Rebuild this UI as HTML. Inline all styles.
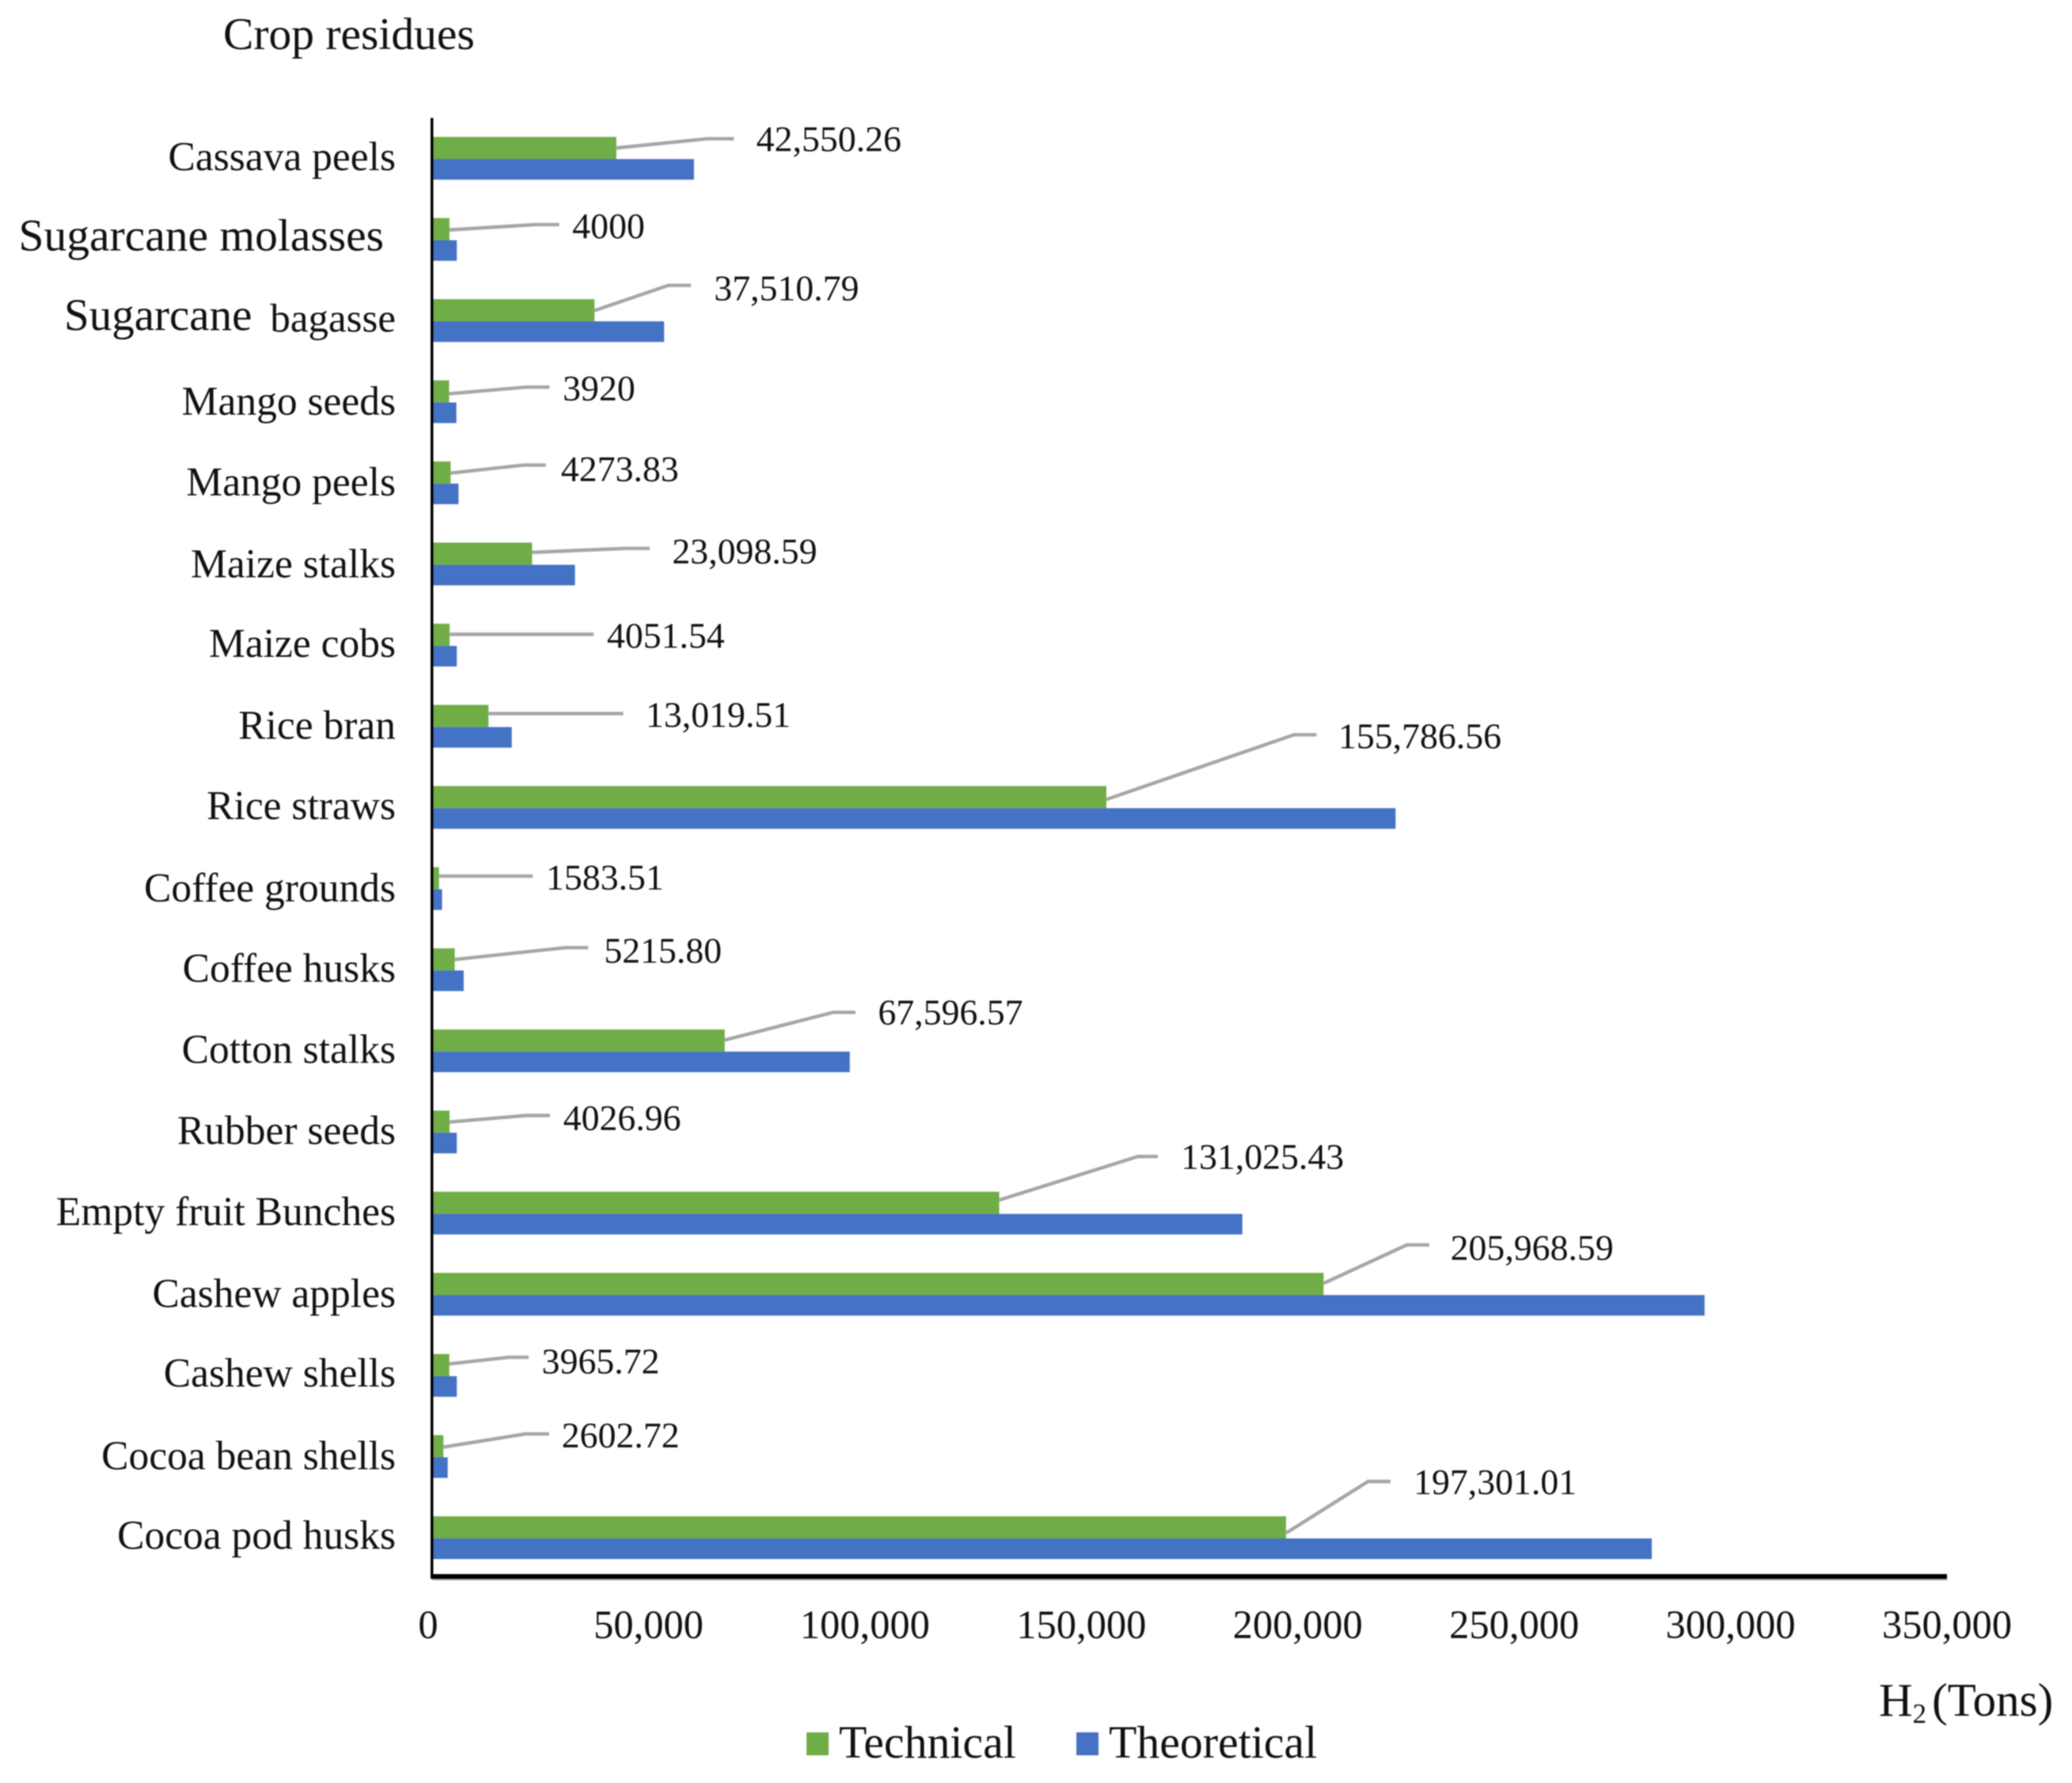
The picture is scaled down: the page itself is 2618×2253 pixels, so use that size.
<!DOCTYPE html>
<html lang="en">
<head>
<meta charset="utf-8">
<title>Crop residues – H2 (Tons)</title>
<style>
  html, body { margin: 0; padding: 0; background: #fff; }
  body { width: 2618px; height: 2253px; overflow: hidden; }
  svg { display: block; filter: blur(0.7px); }
  text { font-family: "Liberation Serif", "Times New Roman", serif; fill: #111; }
</style>
</head>
<body>
<svg id="chart" xmlns="http://www.w3.org/2000/svg" width="2618" height="2253" viewBox="0 0 2618 2253">
  <rect x="0" y="0" width="2618" height="2253" fill="#ffffff"/>
  <text x="282" y="62" font-size="57.5">Crop residues</text>
  <g id="bars"></g>
  <g id="leaders"></g>
  <g id="callouts"></g>
  <g id="categoryLabels"></g>
  <g id="tickLabels"></g>
  <rect x="544" y="149" width="3.5" height="1846" fill="#000"/>
  <rect x="545" y="1989" width="1915" height="6" fill="#000"/>
  <rect x="546" y="1995" width="1914" height="2" fill="#aaaaaa"/>
  <text x="2374" y="2168" font-size="59">H<tspan font-size="35" dy="9">2</tspan><tspan dy="-9" dx="7">(Tons)</tspan></text>
  <g>
    <rect x="1019" y="2189" width="28" height="29" fill="#70AD47"/>
    <text x="1060" y="2221" font-size="57.8">Technical</text>
    <rect x="1360" y="2189" width="28" height="29" fill="#4472C4"/>
    <text x="1401" y="2221" font-size="57.8">Theoretical</text>
  </g>
</svg>
<script>
// ---- chart data (listed top to bottom) ----
const categories = ["Cassava peels", "Sugarcane molasses", "Sugarcane bagasse", "Mango seeds", "Mango peels", "Maize stalks", "Maize cobs", "Rice bran", "Rice straws", "Coffee grounds", "Coffee husks", "Cotton stalks", "Rubber seeds", "Empty fruit Bunches", "Cashew apples", "Cashew shells", "Cocoa bean shells", "Cocoa pod husks"];
const technical = [42550.26, 4000, 37510.79, 3920, 4273.83, 23098.59, 4051.54, 13019.51, 155786.56, 1583.51, 5215.80, 67596.57, 4026.96, 131025.43, 205968.59, 3965.72, 2602.72, 197301.01];
const theoretical = [60500, 5700, 53600, 5600, 6100, 33000, 5700, 18400, 222600, 2300, 7300, 96500, 5700, 187200, 294000, 5700, 3600, 281800];
const printedValues = ["42,550.26", "4000", "37,510.79", "3920", "4273.83", "23,098.59", "4051.54", "13,019.51", "155,786.56", "1583.51", "5215.80", "67,596.57", "4026.96", "131,025.43", "205,968.59", "3965.72", "2602.72", "197,301.01"];
const xTicks = [0, 50000, 100000, 150000, 200000, 250000, 300000, 350000];
const xTickLabels = ["0", "50,000", "100,000", "150,000", "200,000", "250,000", "300,000", "350,000"];

// ---- layout (not data) ----
const X0 = 546, X1 = 2460, XMAX = 350000;
const ROW0 = 201, ROWN = 1944;
const GREEN_H = 28, BLUE_H = 26;
const K = 1.6696;
// hand-placed callouts, relative to the end of the technical bar and the row centre:
// start dy, elbow dx, elbow dy, flat-end dx, text dx, text dy
const calloutLayout = [
  [-8.4, 69, -15.4, 89, 106, -15],
  [-7.8, 65, -11.8, 83, 93, -10.6],
  [-8.2, 56, -27.2, 73, 90.5, -25],
  [-6.6, 58, -11.6, 76, 86, -10.4],
  [-8, 55, -14, 72, 83.5, -11],
  [-9.4, 71, -12.4, 89, 106, -10],
  [-8.8, 90, -8.8, 109, 119, -7.6],
  [-10.2, 84, -10.2, 102, 119, -9],
  [-6.6, 142, -55.6, 159, 175.5, -54.4],
  [-10, 54, -10, 71, 81, -8.8],
  [-8.3, 84, -17.3, 101, 113, -15],
  [-8.7, 82, -29.7, 99, 116, -29.4],
  [-8.1, 58, -13.1, 76, 86, -11],
  [-10.5, 105, -43.5, 120, 137.5, -43.2],
  [-8.9, 63, -37.9, 80, 96, -35.6],
  [-9.3, 45, -14.3, 60, 70, -11],
  [-7.7, 62, -17.7, 80, 89.5, -16.4],
  [-4.1, 62, -43.1, 79, 96.5, -42.6]
];
const labelNudge = [0, -1, 0, 1.5, 1, 2, 0, 1, 0, 1, 0, 0, 0, 0, 1, -1, 1, -1];

const SVG_NS = "http://www.w3.org/2000/svg";
function x(v) { return X0 + (v / XMAX) * (X1 - X0); }
function rowY(i) { return ROW0 + i * (ROWN - ROW0) / (categories.length - 1); }
function slug(s) { return s.toLowerCase().replace(/[^a-z0-9]+/g, "-"); }
function make(tag, parent, attrs) {
  const el = document.createElementNS(SVG_NS, tag);
  for (const key in attrs) { el.setAttribute(key, attrs[key]); }
  parent.appendChild(el);
  return el;
}

const barsG = document.getElementById("bars");
const leadersG = document.getElementById("leaders");
const calloutsG = document.getElementById("callouts");
const catG = document.getElementById("categoryLabels");
const tickG = document.getElementById("tickLabels");

categories.forEach(function (name, i) {
  const cy = rowY(i);
  const key = slug(name);

  const green = make("rect", barsG, { x: X0, y: cy - GREEN_H, width: x(technical[i]) - X0, height: GREEN_H, fill: "#70AD47" });
  
  

  const blue = make("rect", barsG, { x: X0, y: cy, width: x(theoretical[i]) - X0, height: BLUE_H, fill: "#4472C4" });
  
  

  const c = calloutLayout[i];
  const endX = x(technical[i]);
  const pts = [
    [endX, cy + c[0] * K],
    [endX + c[1] * K, cy + c[2] * K],
    [endX + c[3] * K, cy + c[2] * K]
  ].map(function (p) { return p[0].toFixed(1) + "," + p[1].toFixed(1); }).join(" ");
  const leader = make("polyline", leadersG, { points: pts, fill: "none", stroke: "#A6A6A6", "stroke-width": 4.4 });
  
  

  const value = make("text", calloutsG, { x: endX + c[4] * K, y: cy + c[5] * K + 15, "font-size": 45.8 });
  
  
  value.textContent = printedValues[i];

  const baseY = cy + 14 + labelNudge[i];
  const label = make("text", catG, { x: 500, y: baseY, "text-anchor": "end", "font-size": 51.5 });
  
  
  if (name === "Sugarcane molasses") {
    label.setAttribute("x", 485);
    label.setAttribute("font-size", 57.5);
    label.textContent = name;
  } else if (name === "Sugarcane bagasse") {
    const parts = name.split(" ");
    const first = make("tspan", label, { "font-size": 57, dy: -3 });
    first.textContent = parts[0];
    const second = make("tspan", label, { "font-size": 51, dx: 23, dy: 2 });
    second.textContent = parts[1];
  } else {
    label.textContent = name;
  }
});

xTicks.forEach(function (t, i) {
  const tick = make("text", tickG, { x: x(t) - (t === 0 ? 5 : 0), y: 2070, "text-anchor": "middle", "font-size": 50.5 });
  
  
  tick.textContent = xTickLabels[i];
});
</script>
</body>
</html>
